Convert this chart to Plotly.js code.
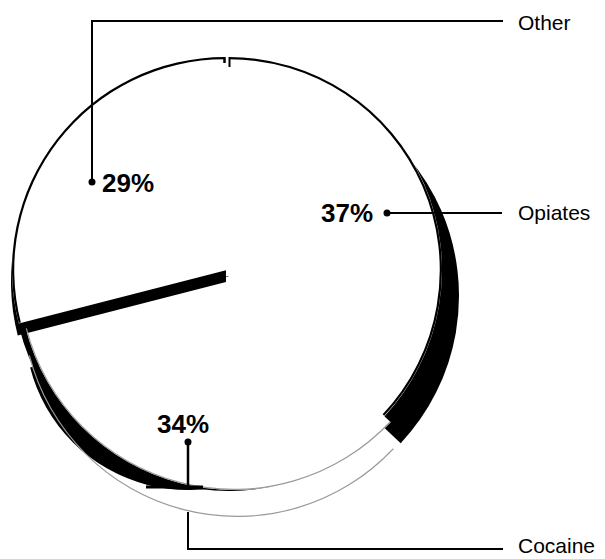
<!DOCTYPE html>
<html><head><meta charset="utf-8">
<script src="https://cdn.plot.ly/plotly-3.0.1.min.js"></script>
<style>html,body{margin:0;padding:0;background:#fff}#chart{width:605px;height:559px}</style>
</head><body><div id="chart"></div>
<script>
// ---- data ----
const categories = ['Opiates', 'Cocaine', 'Other'];
const shares = [37, 34, 29];
const shareLabels = ['37%', '34%', '29%'];

// ---- drawing ----
const W = 605, H = 559;
const BLACK = '#000000', WHITE = '#ffffff', NONE = 'rgba(0,0,0,0)', FAINT = '#9a9a9a';
const FONT = 'Liberation Sans, Arial, Helvetica, sans-serif';

function only(name, color) { return categories.map(c => c === name ? color : NONE); }
function pie(colors, cx, cy, r, opts) {
  opts = opts || {};
  return {
    type: 'pie', values: shares, labels: categories, sort: false,
    direction: 'clockwise', rotation: 0, textinfo: 'none', hoverinfo: 'skip',
    showlegend: false, hole: opts.hole || 0,
    marker: {colors: colors, line: {color: WHITE, width: 0}},
    domain: {x: [(cx - r) / W, (cx + r) / W], y: [1 - (cy + r) / H, 1 - (cy - r) / H]}
  };
}

const traces = [
  pie(only('Opiates', BLACK), 244, 296, 215),                       // drop shadow, Opiates
  pie(only('Cocaine', BLACK), 188, 327, 163),                       // shadow rim, Cocaine
  pie(only('Cocaine', BLACK), 228, 276, 215),                       // thin shadow rim, Cocaine
  pie(only('Cocaine', WHITE), 234, 275, 215),                       // Cocaine face (dropped)
  pie(only('Other', BLACK), 226, 282, 215),                         // shadow edge, Other
  pie(categories.map(c => c === 'Cocaine' ? NONE : WHITE), 227, 270, 215), // Opiates + Other faces
  pie(only('Other', BLACK), 225, 270, 213, {hole: 0.9895}),         // outline arcs
  pie(only('Opiates', BLACK), 229, 270, 213, {hole: 0.9895}),
  pie(only('Cocaine', FAINT), 234, 275, 215, {hole: 0.9945}),
  pie(only('Cocaine', FAINT), 237, 302, 215, {hole: 0.9945})
];

function X(x) { return x / W; }
function Y(y) { return 1 - y / H; }
function line(x0, y0, x1, y1, w) {
  return {type: 'line', xref: 'paper', yref: 'paper', x0: X(x0), y0: Y(y0), x1: X(x1), y1: Y(y1),
          line: {color: BLACK, width: w || 2}};
}
function dot(x, y, r) {
  return {type: 'circle', xref: 'paper', yref: 'paper', x0: X(x - r), x1: X(x + r), y0: Y(y + r), y1: Y(y - r),
          fillcolor: BLACK, line: {color: BLACK, width: 0}};
}

const shapes = [
  // Other leader
  line(92, 182, 92, 21, 2), line(91, 21, 503, 21, 2), dot(92, 182, 3.5),
  // Opiates leader
  line(387, 213, 502, 213, 2), dot(387, 213, 3.5),
  // Cocaine leader
  line(188, 442, 188, 487, 2.5), dot(188, 442, 3.5), line(146, 487, 203, 487, 3),
  line(188, 512, 188, 549, 2), line(187, 549, 503, 549, 2),
  // notch at the top of the circle
  line(224.5, 57, 224.5, 63, 2.5), line(229.5, 57, 229.5, 67, 2)
];

function ann(text, x, y, anchor, size, bold) {
  return {text: bold ? '<b>' + text + '</b>' : text, xref: 'paper', yref: 'paper', x: X(x), y: Y(y),
          xanchor: anchor, yanchor: 'middle', showarrow: false,
          font: {family: FONT, size: size, color: BLACK}};
}
const annotations = [
  ann(categories[2], 516, 22, 'left', 21, false),
  ann(categories[0], 516, 213, 'left', 21, false),
  ann(categories[1], 516, 545, 'left', 21, false),
  ann(shareLabels[2], 100, 183, 'left', 26, true),
  ann(shareLabels[0], 375, 213, 'right', 26, true),
  ann(shareLabels[1], 183, 424, 'center', 26, true)
];

Plotly.newPlot('chart', traces, {
  width: W, height: H, margin: {l: 0, r: 0, t: 0, b: 0},
  paper_bgcolor: WHITE, plot_bgcolor: WHITE, showlegend: false,
  shapes: shapes, annotations: annotations
}, {staticPlot: true, displayModeBar: false});
</script>
</body></html>
